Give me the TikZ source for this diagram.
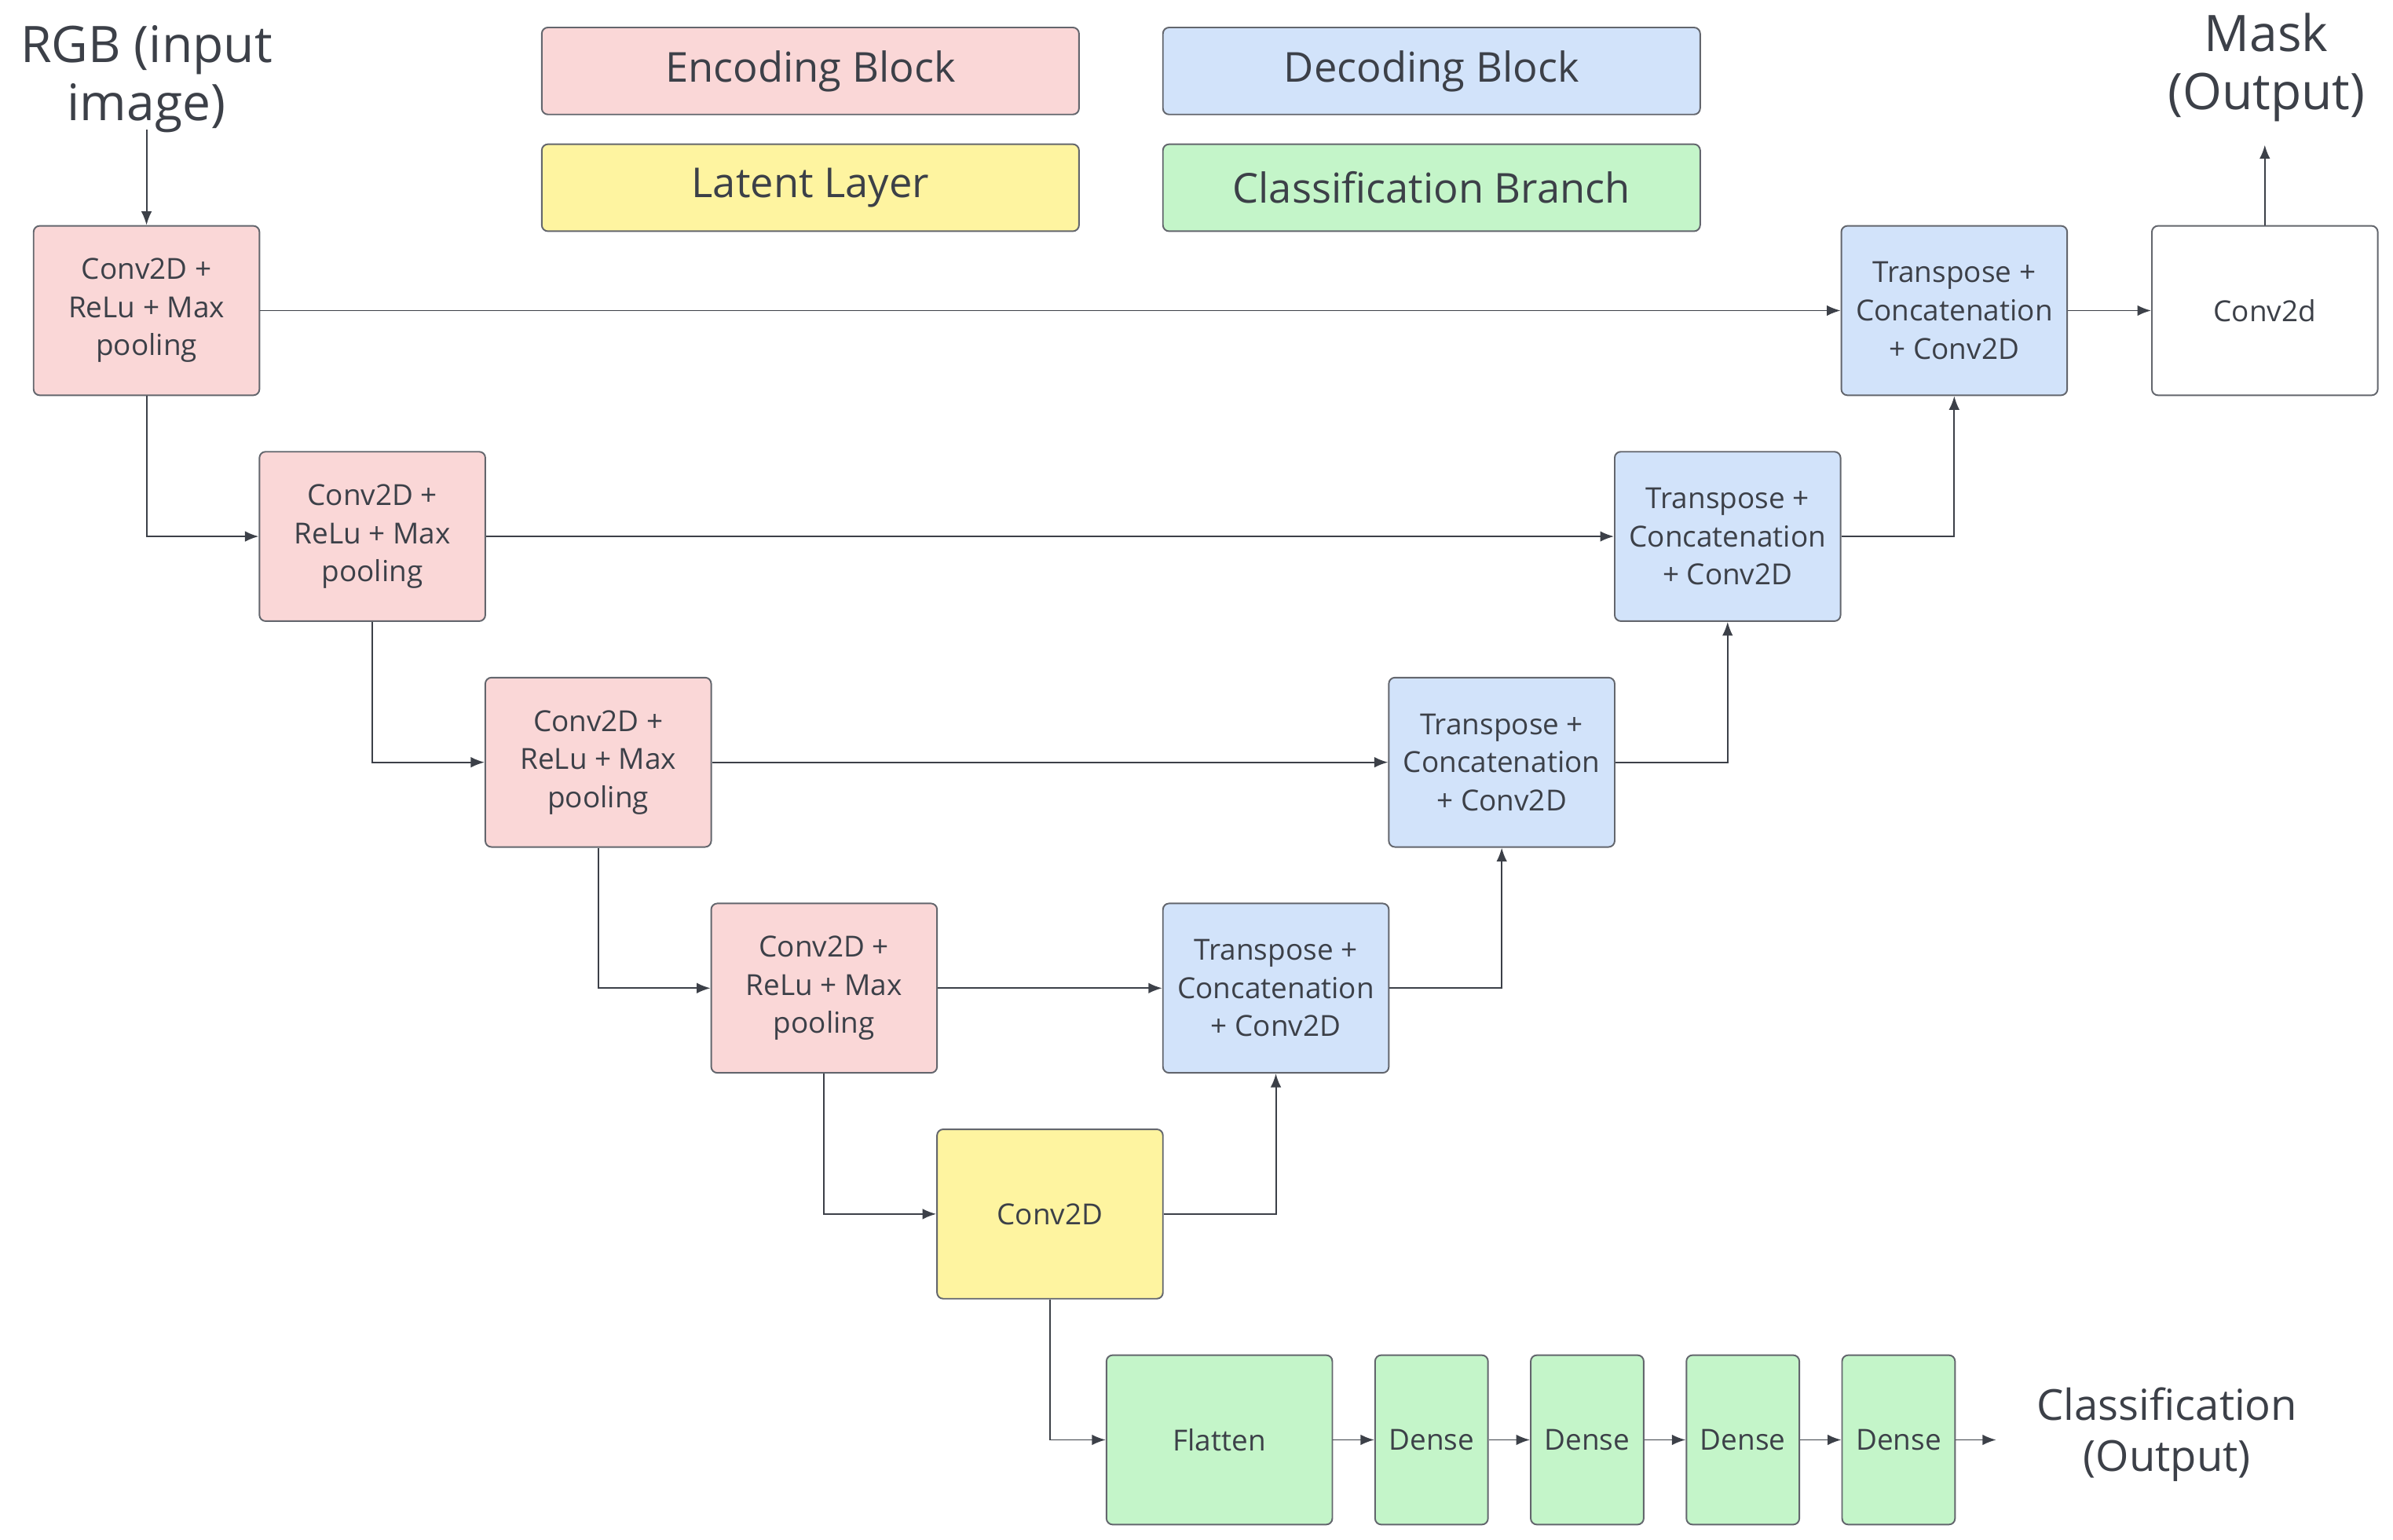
\documentclass[tikz,border=0pt]{standalone}
\usepackage{fontspec}
\setmainfont{Open Sans}
\usetikzlibrary{arrows.meta}
\definecolor{encc}{HTML}{FAD7D7}
\definecolor{decc}{HTML}{D2E3FA}
\definecolor{latc}{HTML}{FEF4A0}
\definecolor{clsc}{HTML}{C4F5C9}
\definecolor{ln}{HTML}{3C4048}
\begin{document}
\begin{tikzpicture}[x=0.5pt,y=-0.5pt,
 box/.style={draw=ln!80,line width=0.5pt,rounded corners=2pt,inner sep=0pt,minimum width=74pt,minimum height=55.5pt,align=center,font=\fontsize{9.5}{12.5}\selectfont,text=ln},
 enc/.style={box,fill=encc}, dec/.style={box,fill=decc}, lat/.style={box,fill=latc}, cls/.style={box,fill=clsc},
 leg/.style={draw=ln!80,line width=0.5pt,rounded corners=2pt,minimum width=176pt,minimum height=28.5pt,font=\fontsize{13.5}{16}\selectfont,text=ln},
 big/.style={font=\fontsize{16.5}{19}\selectfont,text=ln,align=center},
 ar/.style={draw=ln,line width=0.5pt,-{Latex[length=4.5pt,width=3.5pt]}}]
\useasboundingbox (0,0) rectangle (1568,1009);
\node[leg,fill=encc] (l1) at (531,46.5) {Encoding Block};
\node[leg,fill=decc] (l2) at (938,46.5) {Decoding Block};
\node[leg,fill=latc] (l3) at (531,123) {Latent Layer};
\node[leg,fill=clsc] (l4) at (938,123) {Classification Branch};
\node[big] (rgb) at (96,52) {RGB (input\\image)};
\node[big] (mask) at (1485,44) {Mask\\(Output)};
\node[big,font=\fontsize{14}{16.5}\selectfont] (cout) at (1420,940) {Classification\\(Output)};
\node[enc] (e1) at (96,203.5) {Conv2D +\\ReLu + Max\\pooling};
\node[enc] (e2) at (244,351.5) {Conv2D +\\ReLu + Max\\pooling};
\node[enc] (e3) at (392,499.5) {Conv2D +\\ReLu + Max\\pooling};
\node[enc] (e4) at (540,647.5) {Conv2D +\\ReLu + Max\\pooling};
\node[lat] (lt) at (688,795.5) {Conv2D};
\node[dec] (d4) at (836,647.5) {Transpose +\\Concatenation\\+ Conv2D};
\node[dec] (d3) at (984,499.5) {Transpose +\\Concatenation\\+ Conv2D};
\node[dec] (d2) at (1132,351.5) {Transpose +\\Concatenation\\+ Conv2D};
\node[dec] (d1) at (1280.5,203.5) {Transpose +\\Concatenation\\+ Conv2D};
\node[box,fill=white] (oc) at (1484,203.5) {Conv2d};
\node[cls] (fl) at (799,943.5) {Flatten};
\node[cls,minimum width=37pt] (de1) at (938,943.5) {Dense};
\node[cls,minimum width=37pt] (de2) at (1040,943.5) {Dense};
\node[cls,minimum width=37pt] (de3) at (1142,943.5) {Dense};
\node[cls,minimum width=37pt] (de4) at (1244,943.5) {Dense};
\coordinate (ine) at (96,85);
\coordinate (mk) at (1484,95);
\coordinate (ce) at (1308,943.5);
\draw[ar] (ine) -- (e1);
\draw[ar] (oc) -- (mk);
\draw[ar] (e1) |- (e2); \draw[ar] (e2) |- (e3); \draw[ar] (e3) |- (e4); \draw[ar] (e4) |- (lt);
\draw[ar] (e1) -- (d1); \draw[ar] (e2) -- (d2); \draw[ar] (e3) -- (d3); \draw[ar] (e4) -- (d4);
\draw[ar] (lt) -| (d4); \draw[ar] (d4) -| (d3); \draw[ar] (d3) -| (d2); \draw[ar] (d2) -| (d1);
\draw[ar] (d1) -- (oc);
\draw[ar] (lt) |- (fl);
\draw[ar] (fl) -- (de1); \draw[ar] (de1) -- (de2); \draw[ar] (de2) -- (de3); \draw[ar] (de3) -- (de4);
\draw[ar] (de4) -- (ce);
\end{tikzpicture}
\end{document}
